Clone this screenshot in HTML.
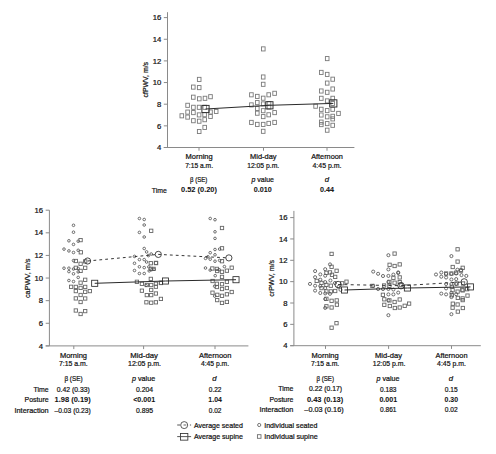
<!DOCTYPE html>
<html><head><meta charset="utf-8"><title>PWV by time of day</title>
<style>
html,body{margin:0;padding:0;background:#fff;}
body{width:496px;height:454px;overflow:hidden;}
svg{display:block;font-family:"Liberation Sans",sans-serif;}
text{fill:#111;stroke:#111;stroke-width:0.22px;}
text[font-weight=bold]{stroke-width:0.05px;}
</style></head>
<body>
<svg width="496" height="454" viewBox="0 0 496 454">
<rect width="496" height="454" fill="#fff"/>
<line x1="167.50" y1="12.20" x2="167.50" y2="147.50" stroke="#8a8a8a" stroke-width="1.0"/>
<line x1="163.80" y1="147.50" x2="354.40" y2="147.50" stroke="#8a8a8a" stroke-width="1.0"/>
<line x1="163.80" y1="147.50" x2="167.50" y2="147.50" stroke="#8a8a8a" stroke-width="1.0"/>
<text x="161.30" y="150.15" text-anchor="end" font-size="7.7">4</text>
<line x1="163.80" y1="125.85" x2="167.50" y2="125.85" stroke="#8a8a8a" stroke-width="1.0"/>
<text x="161.30" y="128.50" text-anchor="end" font-size="7.7">6</text>
<line x1="163.80" y1="104.20" x2="167.50" y2="104.20" stroke="#8a8a8a" stroke-width="1.0"/>
<text x="161.30" y="106.85" text-anchor="end" font-size="7.7">8</text>
<line x1="163.80" y1="82.55" x2="167.50" y2="82.55" stroke="#8a8a8a" stroke-width="1.0"/>
<text x="161.30" y="85.20" text-anchor="end" font-size="7.7">10</text>
<line x1="163.80" y1="60.90" x2="167.50" y2="60.90" stroke="#8a8a8a" stroke-width="1.0"/>
<text x="161.30" y="63.55" text-anchor="end" font-size="7.7">12</text>
<line x1="163.80" y1="39.25" x2="167.50" y2="39.25" stroke="#8a8a8a" stroke-width="1.0"/>
<text x="161.30" y="41.90" text-anchor="end" font-size="7.7">14</text>
<line x1="163.80" y1="17.60" x2="167.50" y2="17.60" stroke="#8a8a8a" stroke-width="1.0"/>
<text x="161.30" y="20.25" text-anchor="end" font-size="7.7">16</text>
<line x1="199.00" y1="147.50" x2="199.00" y2="150.70" stroke="#8a8a8a" stroke-width="1.0"/>
<line x1="263.50" y1="147.50" x2="263.50" y2="150.70" stroke="#8a8a8a" stroke-width="1.0"/>
<line x1="327.00" y1="147.50" x2="327.00" y2="150.70" stroke="#8a8a8a" stroke-width="1.0"/>
<text transform="translate(148.2,79.7) rotate(-90)" text-anchor="middle" font-size="7.7" textLength="35.6" lengthAdjust="spacingAndGlyphs">cfPWV, m/s</text>
<rect x="197.40" y="77.35" width="3.60" height="4.10" fill="none" stroke="#7a7a7a" stroke-width="0.9"/>
<rect x="191.50" y="85.05" width="3.60" height="4.10" fill="none" stroke="#7a7a7a" stroke-width="0.9"/>
<rect x="197.40" y="85.55" width="3.60" height="4.10" fill="none" stroke="#7a7a7a" stroke-width="0.9"/>
<rect x="191.50" y="95.15" width="3.60" height="4.10" fill="none" stroke="#7a7a7a" stroke-width="0.9"/>
<rect x="197.50" y="96.75" width="3.60" height="4.10" fill="none" stroke="#7a7a7a" stroke-width="0.9"/>
<rect x="203.20" y="96.25" width="3.60" height="4.10" fill="none" stroke="#7a7a7a" stroke-width="0.9"/>
<rect x="208.70" y="94.65" width="3.60" height="4.10" fill="none" stroke="#7a7a7a" stroke-width="0.9"/>
<rect x="185.80" y="103.25" width="3.60" height="4.10" fill="none" stroke="#7a7a7a" stroke-width="0.9"/>
<rect x="191.60" y="105.25" width="3.60" height="4.10" fill="none" stroke="#7a7a7a" stroke-width="0.9"/>
<rect x="197.30" y="105.25" width="3.60" height="4.10" fill="none" stroke="#7a7a7a" stroke-width="0.9"/>
<rect x="203.00" y="105.25" width="3.60" height="4.10" fill="none" stroke="#7a7a7a" stroke-width="0.9"/>
<rect x="185.80" y="110.05" width="3.60" height="4.10" fill="none" stroke="#7a7a7a" stroke-width="0.9"/>
<rect x="191.60" y="110.55" width="3.60" height="4.10" fill="none" stroke="#7a7a7a" stroke-width="0.9"/>
<rect x="197.30" y="112.85" width="3.60" height="4.10" fill="none" stroke="#7a7a7a" stroke-width="0.9"/>
<rect x="202.80" y="112.65" width="3.60" height="4.10" fill="none" stroke="#7a7a7a" stroke-width="0.9"/>
<rect x="208.70" y="109.95" width="3.60" height="4.10" fill="none" stroke="#7a7a7a" stroke-width="0.9"/>
<rect x="214.40" y="109.45" width="3.60" height="4.10" fill="none" stroke="#7a7a7a" stroke-width="0.9"/>
<rect x="180.00" y="113.75" width="3.60" height="4.10" fill="none" stroke="#7a7a7a" stroke-width="0.9"/>
<rect x="185.80" y="115.05" width="3.60" height="4.10" fill="none" stroke="#7a7a7a" stroke-width="0.9"/>
<rect x="208.70" y="114.45" width="3.60" height="4.10" fill="none" stroke="#7a7a7a" stroke-width="0.9"/>
<rect x="191.60" y="118.65" width="3.60" height="4.10" fill="none" stroke="#7a7a7a" stroke-width="0.9"/>
<rect x="197.40" y="119.15" width="3.60" height="4.10" fill="none" stroke="#7a7a7a" stroke-width="0.9"/>
<rect x="202.90" y="117.65" width="3.60" height="4.10" fill="none" stroke="#7a7a7a" stroke-width="0.9"/>
<rect x="202.90" y="125.35" width="3.60" height="4.10" fill="none" stroke="#7a7a7a" stroke-width="0.9"/>
<rect x="197.40" y="129.45" width="3.60" height="4.10" fill="none" stroke="#7a7a7a" stroke-width="0.9"/>
<rect x="261.50" y="46.85" width="3.60" height="4.10" fill="none" stroke="#7a7a7a" stroke-width="0.9"/>
<rect x="261.40" y="74.95" width="3.60" height="4.10" fill="none" stroke="#7a7a7a" stroke-width="0.9"/>
<rect x="261.40" y="82.25" width="3.60" height="4.10" fill="none" stroke="#7a7a7a" stroke-width="0.9"/>
<rect x="249.60" y="92.75" width="3.60" height="4.10" fill="none" stroke="#7a7a7a" stroke-width="0.9"/>
<rect x="255.50" y="94.35" width="3.60" height="4.10" fill="none" stroke="#7a7a7a" stroke-width="0.9"/>
<rect x="261.40" y="96.15" width="3.60" height="4.10" fill="none" stroke="#7a7a7a" stroke-width="0.9"/>
<rect x="266.90" y="92.75" width="3.60" height="4.10" fill="none" stroke="#7a7a7a" stroke-width="0.9"/>
<rect x="272.80" y="91.25" width="3.60" height="4.10" fill="none" stroke="#7a7a7a" stroke-width="0.9"/>
<rect x="249.60" y="102.85" width="3.60" height="4.10" fill="none" stroke="#7a7a7a" stroke-width="0.9"/>
<rect x="255.50" y="100.55" width="3.60" height="4.10" fill="none" stroke="#7a7a7a" stroke-width="0.9"/>
<rect x="261.40" y="101.85" width="3.60" height="4.10" fill="none" stroke="#7a7a7a" stroke-width="0.9"/>
<rect x="267.20" y="101.55" width="3.60" height="4.10" fill="none" stroke="#7a7a7a" stroke-width="0.9"/>
<rect x="267.20" y="104.95" width="3.60" height="4.10" fill="none" stroke="#7a7a7a" stroke-width="0.9"/>
<rect x="255.50" y="106.45" width="3.60" height="4.10" fill="none" stroke="#7a7a7a" stroke-width="0.9"/>
<rect x="261.40" y="108.65" width="3.60" height="4.10" fill="none" stroke="#7a7a7a" stroke-width="0.9"/>
<rect x="255.50" y="111.15" width="3.60" height="4.10" fill="none" stroke="#7a7a7a" stroke-width="0.9"/>
<rect x="266.90" y="112.75" width="3.60" height="4.10" fill="none" stroke="#7a7a7a" stroke-width="0.9"/>
<rect x="272.80" y="110.55" width="3.60" height="4.10" fill="none" stroke="#7a7a7a" stroke-width="0.9"/>
<rect x="261.40" y="114.55" width="3.60" height="4.10" fill="none" stroke="#7a7a7a" stroke-width="0.9"/>
<rect x="249.60" y="120.35" width="3.60" height="4.10" fill="none" stroke="#7a7a7a" stroke-width="0.9"/>
<rect x="255.50" y="122.35" width="3.60" height="4.10" fill="none" stroke="#7a7a7a" stroke-width="0.9"/>
<rect x="261.40" y="122.35" width="3.60" height="4.10" fill="none" stroke="#7a7a7a" stroke-width="0.9"/>
<rect x="266.90" y="121.35" width="3.60" height="4.10" fill="none" stroke="#7a7a7a" stroke-width="0.9"/>
<rect x="272.80" y="120.35" width="3.60" height="4.10" fill="none" stroke="#7a7a7a" stroke-width="0.9"/>
<rect x="261.40" y="129.25" width="3.60" height="4.10" fill="none" stroke="#7a7a7a" stroke-width="0.9"/>
<rect x="325.40" y="56.55" width="3.60" height="4.10" fill="none" stroke="#7a7a7a" stroke-width="0.9"/>
<rect x="319.50" y="70.35" width="3.60" height="4.10" fill="none" stroke="#7a7a7a" stroke-width="0.9"/>
<rect x="325.40" y="72.35" width="3.60" height="4.10" fill="none" stroke="#7a7a7a" stroke-width="0.9"/>
<rect x="330.90" y="77.15" width="3.60" height="4.10" fill="none" stroke="#7a7a7a" stroke-width="0.9"/>
<rect x="325.40" y="81.05" width="3.60" height="4.10" fill="none" stroke="#7a7a7a" stroke-width="0.9"/>
<rect x="330.90" y="86.95" width="3.60" height="4.10" fill="none" stroke="#7a7a7a" stroke-width="0.9"/>
<rect x="319.50" y="88.95" width="3.60" height="4.10" fill="none" stroke="#7a7a7a" stroke-width="0.9"/>
<rect x="325.40" y="90.25" width="3.60" height="4.10" fill="none" stroke="#7a7a7a" stroke-width="0.9"/>
<rect x="319.50" y="96.25" width="3.60" height="4.10" fill="none" stroke="#7a7a7a" stroke-width="0.9"/>
<rect x="325.40" y="98.85" width="3.60" height="4.10" fill="none" stroke="#7a7a7a" stroke-width="0.9"/>
<rect x="330.90" y="96.25" width="3.60" height="4.10" fill="none" stroke="#7a7a7a" stroke-width="0.9"/>
<rect x="313.80" y="104.15" width="3.60" height="4.10" fill="none" stroke="#7a7a7a" stroke-width="0.9"/>
<rect x="319.50" y="107.25" width="3.60" height="4.10" fill="none" stroke="#7a7a7a" stroke-width="0.9"/>
<rect x="325.40" y="108.55" width="3.60" height="4.10" fill="none" stroke="#7a7a7a" stroke-width="0.9"/>
<rect x="330.90" y="107.25" width="3.60" height="4.10" fill="none" stroke="#7a7a7a" stroke-width="0.9"/>
<rect x="336.70" y="111.35" width="3.60" height="4.10" fill="none" stroke="#7a7a7a" stroke-width="0.9"/>
<rect x="319.50" y="112.95" width="3.60" height="4.10" fill="none" stroke="#7a7a7a" stroke-width="0.9"/>
<rect x="325.40" y="114.75" width="3.60" height="4.10" fill="none" stroke="#7a7a7a" stroke-width="0.9"/>
<rect x="330.90" y="114.25" width="3.60" height="4.10" fill="none" stroke="#7a7a7a" stroke-width="0.9"/>
<rect x="330.90" y="116.85" width="3.60" height="4.10" fill="none" stroke="#7a7a7a" stroke-width="0.9"/>
<rect x="319.50" y="120.05" width="3.60" height="4.10" fill="none" stroke="#7a7a7a" stroke-width="0.9"/>
<rect x="319.50" y="122.55" width="3.60" height="4.10" fill="none" stroke="#7a7a7a" stroke-width="0.9"/>
<rect x="325.40" y="121.55" width="3.60" height="4.10" fill="none" stroke="#7a7a7a" stroke-width="0.9"/>
<rect x="330.90" y="123.25" width="3.60" height="4.10" fill="none" stroke="#7a7a7a" stroke-width="0.9"/>
<rect x="325.40" y="128.15" width="3.60" height="4.10" fill="none" stroke="#7a7a7a" stroke-width="0.9"/>
<rect x="330.90" y="101.45" width="3.60" height="4.10" fill="none" stroke="#7a7a7a" stroke-width="0.9"/>
<polyline points="205.50,109.00 269.40,105.30 333.30,103.40" fill="none" stroke="#2a2a2a" stroke-width="1.0"/>
<rect x="201.90" y="105.40" width="7.20" height="7.20" fill="none" stroke="#2a2a2a" stroke-width="0.95"/>
<rect x="265.80" y="101.70" width="7.20" height="7.20" fill="none" stroke="#2a2a2a" stroke-width="0.95"/>
<rect x="329.70" y="99.80" width="7.20" height="7.20" fill="none" stroke="#2a2a2a" stroke-width="0.95"/>
<text x="199.10" y="158.90" text-anchor="middle" font-size="7.7" textLength="27.20" lengthAdjust="spacingAndGlyphs">Morning</text>
<text x="199.10" y="167.80" text-anchor="middle" font-size="7.7" textLength="27.90" lengthAdjust="spacingAndGlyphs">7:15 a.m.</text>
<text x="263.30" y="158.80" text-anchor="middle" font-size="7.7" textLength="26.50" lengthAdjust="spacingAndGlyphs">Mid-day</text>
<text x="263.20" y="167.90" text-anchor="middle" font-size="7.7" textLength="32.10" lengthAdjust="spacingAndGlyphs">12:05 p.m.</text>
<text x="327.00" y="158.60" text-anchor="middle" font-size="7.7" textLength="31.70" lengthAdjust="spacingAndGlyphs">Afternoon</text>
<text x="327.00" y="167.90" text-anchor="middle" font-size="7.7" textLength="29.10" lengthAdjust="spacingAndGlyphs">4:45 p.m.</text>
<text x="198.70" y="181.80" text-anchor="middle" font-size="7.7" textLength="17.30" lengthAdjust="spacingAndGlyphs">&#946; (SE)</text>
<text x="262.7" y="181.6" text-anchor="middle" font-size="7.7" textLength="22.6" lengthAdjust="spacingAndGlyphs"><tspan font-style="italic">p</tspan> value</text>
<text x="327.00" y="182.00" text-anchor="middle" font-size="7.7" font-style="italic">d</text>
<text x="166.80" y="192.50" text-anchor="end" font-size="7.7" textLength="15.00" lengthAdjust="spacingAndGlyphs">Time</text>
<text x="199.00" y="192.20" text-anchor="middle" font-size="7.7" font-weight="bold" textLength="35.90" lengthAdjust="spacingAndGlyphs">0.52 (0.20)</text>
<text x="262.70" y="192.20" text-anchor="middle" font-size="7.7" font-weight="bold" textLength="18.00" lengthAdjust="spacingAndGlyphs">0.010</text>
<text x="327.10" y="192.30" text-anchor="middle" font-size="7.7" font-weight="bold" textLength="14.00" lengthAdjust="spacingAndGlyphs">0.44</text>
<line x1="49.40" y1="210.20" x2="49.40" y2="345.90" stroke="#8a8a8a" stroke-width="1.0"/>
<line x1="45.70" y1="345.90" x2="248.40" y2="345.90" stroke="#8a8a8a" stroke-width="1.0"/>
<line x1="45.70" y1="345.90" x2="49.40" y2="345.90" stroke="#8a8a8a" stroke-width="1.0"/>
<text x="43.10" y="348.55" text-anchor="end" font-size="7.7">4</text>
<line x1="45.70" y1="323.28" x2="49.40" y2="323.28" stroke="#8a8a8a" stroke-width="1.0"/>
<text x="43.10" y="325.93" text-anchor="end" font-size="7.7">6</text>
<line x1="45.70" y1="300.67" x2="49.40" y2="300.67" stroke="#8a8a8a" stroke-width="1.0"/>
<text x="43.10" y="303.32" text-anchor="end" font-size="7.7">8</text>
<line x1="45.70" y1="278.05" x2="49.40" y2="278.05" stroke="#8a8a8a" stroke-width="1.0"/>
<text x="43.10" y="280.70" text-anchor="end" font-size="7.7">10</text>
<line x1="45.70" y1="255.43" x2="49.40" y2="255.43" stroke="#8a8a8a" stroke-width="1.0"/>
<text x="43.10" y="258.08" text-anchor="end" font-size="7.7">12</text>
<line x1="45.70" y1="232.82" x2="49.40" y2="232.82" stroke="#8a8a8a" stroke-width="1.0"/>
<text x="43.10" y="235.47" text-anchor="end" font-size="7.7">14</text>
<line x1="45.70" y1="210.20" x2="49.40" y2="210.20" stroke="#8a8a8a" stroke-width="1.0"/>
<text x="43.10" y="212.85" text-anchor="end" font-size="7.7">16</text>
<line x1="73.80" y1="345.90" x2="73.80" y2="349.10" stroke="#8a8a8a" stroke-width="1.0"/>
<line x1="143.60" y1="345.90" x2="143.60" y2="349.10" stroke="#8a8a8a" stroke-width="1.0"/>
<line x1="215.00" y1="345.90" x2="215.00" y2="349.10" stroke="#8a8a8a" stroke-width="1.0"/>
<text transform="translate(29.8,278.3) rotate(-90)" text-anchor="middle" font-size="7.7" textLength="39.6" lengthAdjust="spacingAndGlyphs">caPWV, m/s</text>
<rect x="78.95" y="238.45" width="3.30" height="3.30" fill="none" stroke="#666666" stroke-width="0.9"/>
<rect x="79.15" y="250.65" width="3.30" height="3.30" fill="none" stroke="#666666" stroke-width="0.9"/>
<rect x="74.15" y="259.35" width="3.30" height="3.30" fill="none" stroke="#666666" stroke-width="0.9"/>
<rect x="78.95" y="262.15" width="3.30" height="3.30" fill="none" stroke="#666666" stroke-width="0.9"/>
<rect x="83.55" y="259.75" width="3.30" height="3.30" fill="none" stroke="#666666" stroke-width="0.9"/>
<rect x="74.15" y="266.15" width="3.30" height="3.30" fill="none" stroke="#666666" stroke-width="0.9"/>
<rect x="83.55" y="266.15" width="3.30" height="3.30" fill="none" stroke="#666666" stroke-width="0.9"/>
<rect x="78.95" y="269.25" width="3.30" height="3.30" fill="none" stroke="#666666" stroke-width="0.9"/>
<rect x="83.55" y="278.15" width="3.30" height="3.30" fill="none" stroke="#666666" stroke-width="0.9"/>
<rect x="78.95" y="281.05" width="3.30" height="3.30" fill="none" stroke="#666666" stroke-width="0.9"/>
<rect x="69.45" y="285.15" width="3.30" height="3.30" fill="none" stroke="#666666" stroke-width="0.9"/>
<rect x="74.15" y="285.25" width="3.30" height="3.30" fill="none" stroke="#666666" stroke-width="0.9"/>
<rect x="78.95" y="286.25" width="3.30" height="3.30" fill="none" stroke="#666666" stroke-width="0.9"/>
<rect x="83.55" y="285.25" width="3.30" height="3.30" fill="none" stroke="#666666" stroke-width="0.9"/>
<rect x="74.15" y="289.45" width="3.30" height="3.30" fill="none" stroke="#666666" stroke-width="0.9"/>
<rect x="83.55" y="290.15" width="3.30" height="3.30" fill="none" stroke="#666666" stroke-width="0.9"/>
<rect x="88.15" y="289.45" width="3.30" height="3.30" fill="none" stroke="#666666" stroke-width="0.9"/>
<rect x="78.95" y="293.35" width="3.30" height="3.30" fill="none" stroke="#666666" stroke-width="0.9"/>
<rect x="74.15" y="296.75" width="3.30" height="3.30" fill="none" stroke="#666666" stroke-width="0.9"/>
<rect x="83.55" y="296.85" width="3.30" height="3.30" fill="none" stroke="#666666" stroke-width="0.9"/>
<rect x="78.95" y="300.35" width="3.30" height="3.30" fill="none" stroke="#666666" stroke-width="0.9"/>
<rect x="74.15" y="308.85" width="3.30" height="3.30" fill="none" stroke="#666666" stroke-width="0.9"/>
<rect x="83.55" y="309.45" width="3.30" height="3.30" fill="none" stroke="#666666" stroke-width="0.9"/>
<rect x="78.95" y="312.35" width="3.30" height="3.30" fill="none" stroke="#666666" stroke-width="0.9"/>
<rect x="149.55" y="229.15" width="3.30" height="3.30" fill="none" stroke="#666666" stroke-width="0.9"/>
<rect x="149.15" y="261.55" width="3.30" height="3.30" fill="none" stroke="#666666" stroke-width="0.9"/>
<rect x="154.25" y="261.25" width="3.30" height="3.30" fill="none" stroke="#666666" stroke-width="0.9"/>
<rect x="149.15" y="267.25" width="3.30" height="3.30" fill="none" stroke="#666666" stroke-width="0.9"/>
<rect x="151.95" y="267.25" width="3.30" height="3.30" fill="none" stroke="#666666" stroke-width="0.9"/>
<rect x="154.45" y="261.45" width="3.30" height="3.30" fill="none" stroke="#666666" stroke-width="0.9"/>
<rect x="149.15" y="277.25" width="3.30" height="3.30" fill="none" stroke="#666666" stroke-width="0.9"/>
<rect x="135.25" y="280.15" width="3.30" height="3.30" fill="none" stroke="#666666" stroke-width="0.9"/>
<rect x="140.25" y="282.15" width="3.30" height="3.30" fill="none" stroke="#666666" stroke-width="0.9"/>
<rect x="145.15" y="283.35" width="3.30" height="3.30" fill="none" stroke="#666666" stroke-width="0.9"/>
<rect x="149.55" y="283.35" width="3.30" height="3.30" fill="none" stroke="#666666" stroke-width="0.9"/>
<rect x="154.25" y="282.15" width="3.30" height="3.30" fill="none" stroke="#666666" stroke-width="0.9"/>
<rect x="154.25" y="285.05" width="3.30" height="3.30" fill="none" stroke="#666666" stroke-width="0.9"/>
<rect x="159.25" y="281.35" width="3.30" height="3.30" fill="none" stroke="#666666" stroke-width="0.9"/>
<rect x="159.35" y="281.15" width="3.30" height="3.30" fill="none" stroke="#666666" stroke-width="0.9"/>
<rect x="140.25" y="289.05" width="3.30" height="3.30" fill="none" stroke="#666666" stroke-width="0.9"/>
<rect x="149.55" y="288.35" width="3.30" height="3.30" fill="none" stroke="#666666" stroke-width="0.9"/>
<rect x="154.25" y="291.85" width="3.30" height="3.30" fill="none" stroke="#666666" stroke-width="0.9"/>
<rect x="145.15" y="293.45" width="3.30" height="3.30" fill="none" stroke="#666666" stroke-width="0.9"/>
<rect x="149.55" y="293.45" width="3.30" height="3.30" fill="none" stroke="#666666" stroke-width="0.9"/>
<rect x="159.25" y="297.25" width="3.30" height="3.30" fill="none" stroke="#666666" stroke-width="0.9"/>
<rect x="144.75" y="300.65" width="3.30" height="3.30" fill="none" stroke="#666666" stroke-width="0.9"/>
<rect x="149.55" y="301.05" width="3.30" height="3.30" fill="none" stroke="#666666" stroke-width="0.9"/>
<rect x="154.25" y="300.65" width="3.30" height="3.30" fill="none" stroke="#666666" stroke-width="0.9"/>
<rect x="220.35" y="226.35" width="3.30" height="3.30" fill="none" stroke="#666666" stroke-width="0.9"/>
<rect x="220.35" y="246.65" width="3.30" height="3.30" fill="none" stroke="#666666" stroke-width="0.9"/>
<rect x="220.35" y="259.55" width="3.30" height="3.30" fill="none" stroke="#666666" stroke-width="0.9"/>
<rect x="210.65" y="266.85" width="3.30" height="3.30" fill="none" stroke="#666666" stroke-width="0.9"/>
<rect x="215.15" y="267.25" width="3.30" height="3.30" fill="none" stroke="#666666" stroke-width="0.9"/>
<rect x="230.05" y="266.05" width="3.30" height="3.30" fill="none" stroke="#666666" stroke-width="0.9"/>
<rect x="215.55" y="269.35" width="3.30" height="3.30" fill="none" stroke="#666666" stroke-width="0.9"/>
<rect x="220.35" y="270.15" width="3.30" height="3.30" fill="none" stroke="#666666" stroke-width="0.9"/>
<rect x="225.25" y="269.05" width="3.30" height="3.30" fill="none" stroke="#666666" stroke-width="0.9"/>
<rect x="220.35" y="275.25" width="3.30" height="3.30" fill="none" stroke="#666666" stroke-width="0.9"/>
<rect x="210.95" y="279.35" width="3.30" height="3.30" fill="none" stroke="#666666" stroke-width="0.9"/>
<rect x="225.25" y="280.15" width="3.30" height="3.30" fill="none" stroke="#666666" stroke-width="0.9"/>
<rect x="215.15" y="282.15" width="3.30" height="3.30" fill="none" stroke="#666666" stroke-width="0.9"/>
<rect x="220.35" y="282.55" width="3.30" height="3.30" fill="none" stroke="#666666" stroke-width="0.9"/>
<rect x="215.15" y="285.35" width="3.30" height="3.30" fill="none" stroke="#666666" stroke-width="0.9"/>
<rect x="220.35" y="287.35" width="3.30" height="3.30" fill="none" stroke="#666666" stroke-width="0.9"/>
<rect x="225.25" y="286.35" width="3.30" height="3.30" fill="none" stroke="#666666" stroke-width="0.9"/>
<rect x="210.85" y="291.05" width="3.30" height="3.30" fill="none" stroke="#666666" stroke-width="0.9"/>
<rect x="215.65" y="293.15" width="3.30" height="3.30" fill="none" stroke="#666666" stroke-width="0.9"/>
<rect x="220.35" y="294.15" width="3.30" height="3.30" fill="none" stroke="#666666" stroke-width="0.9"/>
<rect x="225.25" y="292.65" width="3.30" height="3.30" fill="none" stroke="#666666" stroke-width="0.9"/>
<rect x="230.05" y="290.35" width="3.30" height="3.30" fill="none" stroke="#666666" stroke-width="0.9"/>
<rect x="215.55" y="298.45" width="3.30" height="3.30" fill="none" stroke="#666666" stroke-width="0.9"/>
<rect x="220.35" y="301.25" width="3.30" height="3.30" fill="none" stroke="#666666" stroke-width="0.9"/>
<rect x="225.25" y="300.25" width="3.30" height="3.30" fill="none" stroke="#666666" stroke-width="0.9"/>
<circle cx="73.50" cy="225.30" r="1.30" fill="none" stroke="#555555" stroke-width="0.85"/>
<circle cx="73.50" cy="232.20" r="1.30" fill="none" stroke="#555555" stroke-width="0.85"/>
<circle cx="68.90" cy="240.80" r="1.30" fill="none" stroke="#555555" stroke-width="0.85"/>
<circle cx="78.20" cy="241.20" r="1.30" fill="none" stroke="#555555" stroke-width="0.85"/>
<circle cx="73.50" cy="244.40" r="1.30" fill="none" stroke="#555555" stroke-width="0.85"/>
<circle cx="64.00" cy="249.10" r="1.30" fill="none" stroke="#555555" stroke-width="0.85"/>
<circle cx="68.90" cy="250.90" r="1.30" fill="none" stroke="#555555" stroke-width="0.85"/>
<circle cx="73.50" cy="252.50" r="1.30" fill="none" stroke="#555555" stroke-width="0.85"/>
<circle cx="78.20" cy="250.30" r="1.30" fill="none" stroke="#555555" stroke-width="0.85"/>
<circle cx="73.50" cy="260.60" r="1.30" fill="none" stroke="#555555" stroke-width="0.85"/>
<circle cx="64.00" cy="268.20" r="1.30" fill="none" stroke="#555555" stroke-width="0.85"/>
<circle cx="68.90" cy="268.20" r="1.30" fill="none" stroke="#555555" stroke-width="0.85"/>
<circle cx="68.90" cy="271.60" r="1.30" fill="none" stroke="#555555" stroke-width="0.85"/>
<circle cx="73.50" cy="269.00" r="1.30" fill="none" stroke="#555555" stroke-width="0.85"/>
<circle cx="78.20" cy="268.40" r="1.30" fill="none" stroke="#555555" stroke-width="0.85"/>
<circle cx="78.20" cy="271.90" r="1.30" fill="none" stroke="#555555" stroke-width="0.85"/>
<circle cx="73.50" cy="273.80" r="1.30" fill="none" stroke="#555555" stroke-width="0.85"/>
<circle cx="78.20" cy="277.40" r="1.30" fill="none" stroke="#555555" stroke-width="0.85"/>
<circle cx="68.90" cy="280.50" r="1.30" fill="none" stroke="#555555" stroke-width="0.85"/>
<circle cx="73.50" cy="281.50" r="1.30" fill="none" stroke="#555555" stroke-width="0.85"/>
<circle cx="139.40" cy="218.50" r="1.30" fill="none" stroke="#555555" stroke-width="0.85"/>
<circle cx="144.20" cy="219.50" r="1.30" fill="none" stroke="#555555" stroke-width="0.85"/>
<circle cx="144.20" cy="225.00" r="1.30" fill="none" stroke="#555555" stroke-width="0.85"/>
<circle cx="139.40" cy="232.40" r="1.30" fill="none" stroke="#555555" stroke-width="0.85"/>
<circle cx="144.20" cy="237.00" r="1.30" fill="none" stroke="#555555" stroke-width="0.85"/>
<circle cx="144.20" cy="248.50" r="1.30" fill="none" stroke="#555555" stroke-width="0.85"/>
<circle cx="146.60" cy="251.90" r="1.30" fill="none" stroke="#555555" stroke-width="0.85"/>
<circle cx="151.20" cy="254.00" r="1.30" fill="none" stroke="#555555" stroke-width="0.85"/>
<circle cx="148.40" cy="255.60" r="1.30" fill="none" stroke="#555555" stroke-width="0.85"/>
<circle cx="134.50" cy="256.40" r="1.30" fill="none" stroke="#555555" stroke-width="0.85"/>
<circle cx="139.40" cy="259.60" r="1.30" fill="none" stroke="#555555" stroke-width="0.85"/>
<circle cx="144.20" cy="259.60" r="1.30" fill="none" stroke="#555555" stroke-width="0.85"/>
<circle cx="146.60" cy="262.00" r="1.30" fill="none" stroke="#555555" stroke-width="0.85"/>
<circle cx="134.50" cy="263.30" r="1.30" fill="none" stroke="#555555" stroke-width="0.85"/>
<circle cx="139.40" cy="266.80" r="1.30" fill="none" stroke="#555555" stroke-width="0.85"/>
<circle cx="144.20" cy="267.60" r="1.30" fill="none" stroke="#555555" stroke-width="0.85"/>
<circle cx="148.80" cy="266.90" r="1.30" fill="none" stroke="#555555" stroke-width="0.85"/>
<circle cx="134.50" cy="270.50" r="1.30" fill="none" stroke="#555555" stroke-width="0.85"/>
<circle cx="139.40" cy="273.50" r="1.30" fill="none" stroke="#555555" stroke-width="0.85"/>
<circle cx="144.20" cy="273.50" r="1.30" fill="none" stroke="#555555" stroke-width="0.85"/>
<circle cx="149.20" cy="270.90" r="1.30" fill="none" stroke="#555555" stroke-width="0.85"/>
<circle cx="151.60" cy="269.70" r="1.30" fill="none" stroke="#555555" stroke-width="0.85"/>
<circle cx="154.00" cy="269.30" r="1.30" fill="none" stroke="#555555" stroke-width="0.85"/>
<circle cx="146.00" cy="285.40" r="1.30" fill="none" stroke="#555555" stroke-width="0.85"/>
<circle cx="210.20" cy="218.50" r="1.30" fill="none" stroke="#555555" stroke-width="0.85"/>
<circle cx="215.00" cy="219.70" r="1.30" fill="none" stroke="#555555" stroke-width="0.85"/>
<circle cx="215.00" cy="231.80" r="1.30" fill="none" stroke="#555555" stroke-width="0.85"/>
<circle cx="215.00" cy="238.40" r="1.30" fill="none" stroke="#555555" stroke-width="0.85"/>
<circle cx="215.00" cy="249.50" r="1.30" fill="none" stroke="#555555" stroke-width="0.85"/>
<circle cx="219.60" cy="249.10" r="1.30" fill="none" stroke="#555555" stroke-width="0.85"/>
<circle cx="210.20" cy="252.70" r="1.30" fill="none" stroke="#555555" stroke-width="0.85"/>
<circle cx="215.00" cy="254.80" r="1.30" fill="none" stroke="#555555" stroke-width="0.85"/>
<circle cx="205.50" cy="258.40" r="1.30" fill="none" stroke="#555555" stroke-width="0.85"/>
<circle cx="207.90" cy="256.80" r="1.30" fill="none" stroke="#555555" stroke-width="0.85"/>
<circle cx="210.20" cy="259.20" r="1.30" fill="none" stroke="#555555" stroke-width="0.85"/>
<circle cx="215.00" cy="261.20" r="1.30" fill="none" stroke="#555555" stroke-width="0.85"/>
<circle cx="219.60" cy="260.40" r="1.30" fill="none" stroke="#555555" stroke-width="0.85"/>
<circle cx="205.50" cy="268.00" r="1.30" fill="none" stroke="#555555" stroke-width="0.85"/>
<circle cx="224.40" cy="266.60" r="1.30" fill="none" stroke="#555555" stroke-width="0.85"/>
<circle cx="210.20" cy="270.10" r="1.30" fill="none" stroke="#555555" stroke-width="0.85"/>
<circle cx="219.20" cy="269.70" r="1.30" fill="none" stroke="#555555" stroke-width="0.85"/>
<circle cx="215.20" cy="275.70" r="1.30" fill="none" stroke="#555555" stroke-width="0.85"/>
<circle cx="214.60" cy="286.20" r="1.30" fill="none" stroke="#555555" stroke-width="0.85"/>
<circle cx="214.70" cy="296.10" r="1.30" fill="none" stroke="#555555" stroke-width="0.85"/>
<polyline points="87.60,261.00 158.30,254.40 228.90,257.90" fill="none" stroke="#2a2a2a" stroke-width="0.95" stroke-dasharray="2.8,3.1"/>
<polyline points="94.70,283.30 165.50,281.00 236.00,279.70" fill="none" stroke="#2a2a2a" stroke-width="1.0"/>
<circle cx="87.60" cy="261.00" r="3.10" fill="none" stroke="#2a2a2a" stroke-width="0.85"/>
<circle cx="158.30" cy="254.40" r="3.10" fill="none" stroke="#2a2a2a" stroke-width="0.85"/>
<circle cx="228.90" cy="257.90" r="3.10" fill="none" stroke="#2a2a2a" stroke-width="0.85"/>
<rect x="91.65" y="280.25" width="6.10" height="6.10" fill="none" stroke="#2a2a2a" stroke-width="0.85"/>
<rect x="162.45" y="277.95" width="6.10" height="6.10" fill="none" stroke="#2a2a2a" stroke-width="0.85"/>
<rect x="232.95" y="276.65" width="6.10" height="6.10" fill="none" stroke="#2a2a2a" stroke-width="0.85"/>
<text x="73.50" y="358.30" text-anchor="middle" font-size="7.7" textLength="27.10" lengthAdjust="spacingAndGlyphs">Morning</text>
<text x="73.30" y="365.60" text-anchor="middle" font-size="7.7" textLength="28.80" lengthAdjust="spacingAndGlyphs">7:15 a.m.</text>
<text x="144.10" y="358.30" text-anchor="middle" font-size="7.7" textLength="27.70" lengthAdjust="spacingAndGlyphs">Mid-day</text>
<text x="144.50" y="366.10" text-anchor="middle" font-size="7.7" textLength="33.00" lengthAdjust="spacingAndGlyphs">12:05 p.m.</text>
<text x="215.20" y="358.30" text-anchor="middle" font-size="7.7" textLength="32.50" lengthAdjust="spacingAndGlyphs">Afternoon</text>
<text x="215.00" y="366.10" text-anchor="middle" font-size="7.7" textLength="28.20" lengthAdjust="spacingAndGlyphs">4:45 p.m.</text>
<text x="73.50" y="380.70" text-anchor="middle" font-size="7.7" textLength="18.20" lengthAdjust="spacingAndGlyphs">&#946; (SE)</text>
<text x="143.6" y="381.0" text-anchor="middle" font-size="7.7" textLength="23.2" lengthAdjust="spacingAndGlyphs"><tspan font-style="italic">p</tspan> value</text>
<text x="214.40" y="381.20" text-anchor="middle" font-size="7.7" font-style="italic">d</text>
<text x="48.70" y="391.80" text-anchor="end" font-size="7.7" textLength="15.10" lengthAdjust="spacingAndGlyphs">Time</text>
<text x="48.70" y="401.80" text-anchor="end" font-size="7.7" textLength="24.20" lengthAdjust="spacingAndGlyphs">Posture</text>
<text x="48.70" y="412.50" text-anchor="end" font-size="7.7" textLength="34.20" lengthAdjust="spacingAndGlyphs">Interaction</text>
<text x="73.30" y="391.80" text-anchor="middle" font-size="7.7" textLength="33.00" lengthAdjust="spacingAndGlyphs">0.42 (0.33)</text>
<text x="72.60" y="401.80" text-anchor="middle" font-size="7.7" font-weight="bold" textLength="36.20" lengthAdjust="spacingAndGlyphs">1.98 (0.19)</text>
<text x="72.60" y="412.50" text-anchor="middle" font-size="7.7" textLength="36.20" lengthAdjust="spacingAndGlyphs">&#8211;0.03 (0.23)</text>
<text x="144.60" y="391.80" text-anchor="middle" font-size="7.7" textLength="17.20" lengthAdjust="spacingAndGlyphs">0.204</text>
<text x="144.20" y="401.80" text-anchor="middle" font-size="7.7" font-weight="bold" textLength="22.00" lengthAdjust="spacingAndGlyphs">&lt;0.001</text>
<text x="144.60" y="412.50" text-anchor="middle" font-size="7.7" textLength="17.20" lengthAdjust="spacingAndGlyphs">0.895</text>
<text x="215.10" y="391.80" text-anchor="middle" font-size="7.7" textLength="12.70" lengthAdjust="spacingAndGlyphs">0.22</text>
<text x="215.10" y="401.80" text-anchor="middle" font-size="7.7" font-weight="bold" textLength="13.50" lengthAdjust="spacingAndGlyphs">1.04</text>
<text x="215.10" y="412.50" text-anchor="middle" font-size="7.7" textLength="12.70" lengthAdjust="spacingAndGlyphs">0.02</text>
<line x1="293.90" y1="210.90" x2="293.90" y2="345.70" stroke="#8a8a8a" stroke-width="1.0"/>
<line x1="290.20" y1="345.70" x2="480.80" y2="345.70" stroke="#8a8a8a" stroke-width="1.0"/>
<line x1="290.20" y1="345.70" x2="293.90" y2="345.70" stroke="#8a8a8a" stroke-width="1.0"/>
<text x="287.50" y="348.35" text-anchor="end" font-size="7.7">4</text>
<line x1="290.20" y1="324.35" x2="293.90" y2="324.35" stroke="#8a8a8a" stroke-width="1.0"/>
<text x="287.50" y="327.00" text-anchor="end" font-size="7.7">6</text>
<line x1="290.20" y1="303.00" x2="293.90" y2="303.00" stroke="#8a8a8a" stroke-width="1.0"/>
<text x="287.50" y="305.65" text-anchor="end" font-size="7.7">8</text>
<line x1="290.20" y1="281.65" x2="293.90" y2="281.65" stroke="#8a8a8a" stroke-width="1.0"/>
<text x="287.50" y="284.30" text-anchor="end" font-size="7.7">10</text>
<line x1="290.20" y1="260.30" x2="293.90" y2="260.30" stroke="#8a8a8a" stroke-width="1.0"/>
<text x="287.50" y="262.95" text-anchor="end" font-size="7.7">12</text>
<line x1="290.20" y1="238.95" x2="293.90" y2="238.95" stroke="#8a8a8a" stroke-width="1.0"/>
<text x="287.50" y="241.60" text-anchor="end" font-size="7.7">14</text>
<line x1="290.20" y1="217.60" x2="293.90" y2="217.60" stroke="#8a8a8a" stroke-width="1.0"/>
<text x="287.50" y="220.25" text-anchor="end" font-size="7.7">16</text>
<line x1="325.50" y1="345.70" x2="325.50" y2="348.90" stroke="#8a8a8a" stroke-width="1.0"/>
<line x1="388.60" y1="345.70" x2="388.60" y2="348.90" stroke="#8a8a8a" stroke-width="1.0"/>
<line x1="451.50" y1="345.70" x2="451.50" y2="348.90" stroke="#8a8a8a" stroke-width="1.0"/>
<text transform="translate(274.3,278.3) rotate(-90)" text-anchor="middle" font-size="7.7" textLength="37.0" lengthAdjust="spacingAndGlyphs">crPWV, m/s</text>
<rect x="329.95" y="252.25" width="3.30" height="3.30" fill="none" stroke="#666666" stroke-width="0.9"/>
<rect x="329.95" y="265.15" width="3.30" height="3.30" fill="none" stroke="#666666" stroke-width="0.9"/>
<rect x="334.95" y="269.15" width="3.30" height="3.30" fill="none" stroke="#666666" stroke-width="0.9"/>
<rect x="324.75" y="271.15" width="3.30" height="3.30" fill="none" stroke="#666666" stroke-width="0.9"/>
<rect x="328.35" y="270.75" width="3.30" height="3.30" fill="none" stroke="#666666" stroke-width="0.9"/>
<rect x="330.35" y="273.15" width="3.30" height="3.30" fill="none" stroke="#666666" stroke-width="0.9"/>
<rect x="333.55" y="275.25" width="3.30" height="3.30" fill="none" stroke="#666666" stroke-width="0.9"/>
<rect x="315.05" y="279.25" width="3.30" height="3.30" fill="none" stroke="#666666" stroke-width="0.9"/>
<rect x="319.85" y="281.25" width="3.30" height="3.30" fill="none" stroke="#666666" stroke-width="0.9"/>
<rect x="324.75" y="283.25" width="3.30" height="3.30" fill="none" stroke="#666666" stroke-width="0.9"/>
<rect x="329.15" y="284.05" width="3.30" height="3.30" fill="none" stroke="#666666" stroke-width="0.9"/>
<rect x="340.45" y="281.65" width="3.30" height="3.30" fill="none" stroke="#666666" stroke-width="0.9"/>
<rect x="344.85" y="280.05" width="3.30" height="3.30" fill="none" stroke="#666666" stroke-width="0.9"/>
<rect x="319.85" y="286.45" width="3.30" height="3.30" fill="none" stroke="#666666" stroke-width="0.9"/>
<rect x="324.75" y="289.75" width="3.30" height="3.30" fill="none" stroke="#666666" stroke-width="0.9"/>
<rect x="329.15" y="289.75" width="3.30" height="3.30" fill="none" stroke="#666666" stroke-width="0.9"/>
<rect x="333.55" y="289.35" width="3.30" height="3.30" fill="none" stroke="#666666" stroke-width="0.9"/>
<rect x="324.75" y="297.15" width="3.30" height="3.30" fill="none" stroke="#666666" stroke-width="0.9"/>
<rect x="329.95" y="299.15" width="3.30" height="3.30" fill="none" stroke="#666666" stroke-width="0.9"/>
<rect x="335.05" y="298.75" width="3.30" height="3.30" fill="none" stroke="#666666" stroke-width="0.9"/>
<rect x="335.25" y="303.05" width="3.30" height="3.30" fill="none" stroke="#666666" stroke-width="0.9"/>
<rect x="324.75" y="304.65" width="3.30" height="3.30" fill="none" stroke="#666666" stroke-width="0.9"/>
<rect x="329.95" y="305.85" width="3.30" height="3.30" fill="none" stroke="#666666" stroke-width="0.9"/>
<rect x="334.85" y="321.55" width="3.30" height="3.30" fill="none" stroke="#666666" stroke-width="0.9"/>
<rect x="329.95" y="326.05" width="3.30" height="3.30" fill="none" stroke="#666666" stroke-width="0.9"/>
<rect x="392.95" y="251.95" width="3.30" height="3.30" fill="none" stroke="#666666" stroke-width="0.9"/>
<rect x="387.95" y="263.15" width="3.30" height="3.30" fill="none" stroke="#666666" stroke-width="0.9"/>
<rect x="392.95" y="264.35" width="3.30" height="3.30" fill="none" stroke="#666666" stroke-width="0.9"/>
<rect x="398.05" y="262.75" width="3.30" height="3.30" fill="none" stroke="#666666" stroke-width="0.9"/>
<rect x="391.75" y="276.15" width="3.30" height="3.30" fill="none" stroke="#666666" stroke-width="0.9"/>
<rect x="398.05" y="275.75" width="3.30" height="3.30" fill="none" stroke="#666666" stroke-width="0.9"/>
<rect x="387.75" y="280.25" width="3.30" height="3.30" fill="none" stroke="#666666" stroke-width="0.9"/>
<rect x="392.95" y="281.05" width="3.30" height="3.30" fill="none" stroke="#666666" stroke-width="0.9"/>
<rect x="398.05" y="280.45" width="3.30" height="3.30" fill="none" stroke="#666666" stroke-width="0.9"/>
<rect x="382.45" y="283.85" width="3.30" height="3.30" fill="none" stroke="#666666" stroke-width="0.9"/>
<rect x="387.75" y="284.25" width="3.30" height="3.30" fill="none" stroke="#666666" stroke-width="0.9"/>
<rect x="399.35" y="283.05" width="3.30" height="3.30" fill="none" stroke="#666666" stroke-width="0.9"/>
<rect x="370.75" y="284.25" width="3.30" height="3.30" fill="none" stroke="#666666" stroke-width="0.9"/>
<rect x="381.25" y="293.15" width="3.30" height="3.30" fill="none" stroke="#666666" stroke-width="0.9"/>
<rect x="382.65" y="297.65" width="3.30" height="3.30" fill="none" stroke="#666666" stroke-width="0.9"/>
<rect x="387.75" y="298.75" width="3.30" height="3.30" fill="none" stroke="#666666" stroke-width="0.9"/>
<rect x="392.95" y="300.35" width="3.30" height="3.30" fill="none" stroke="#666666" stroke-width="0.9"/>
<rect x="398.05" y="297.85" width="3.30" height="3.30" fill="none" stroke="#666666" stroke-width="0.9"/>
<rect x="382.65" y="303.15" width="3.30" height="3.30" fill="none" stroke="#666666" stroke-width="0.9"/>
<rect x="388.15" y="304.35" width="3.30" height="3.30" fill="none" stroke="#666666" stroke-width="0.9"/>
<rect x="393.15" y="306.35" width="3.30" height="3.30" fill="none" stroke="#666666" stroke-width="0.9"/>
<rect x="398.05" y="305.85" width="3.30" height="3.30" fill="none" stroke="#666666" stroke-width="0.9"/>
<rect x="403.05" y="304.15" width="3.30" height="3.30" fill="none" stroke="#666666" stroke-width="0.9"/>
<rect x="407.45" y="301.95" width="3.30" height="3.30" fill="none" stroke="#666666" stroke-width="0.9"/>
<rect x="455.95" y="247.65" width="3.30" height="3.30" fill="none" stroke="#666666" stroke-width="0.9"/>
<rect x="455.95" y="259.95" width="3.30" height="3.30" fill="none" stroke="#666666" stroke-width="0.9"/>
<rect x="451.05" y="265.35" width="3.30" height="3.30" fill="none" stroke="#666666" stroke-width="0.9"/>
<rect x="461.05" y="266.15" width="3.30" height="3.30" fill="none" stroke="#666666" stroke-width="0.9"/>
<rect x="459.35" y="268.95" width="3.30" height="3.30" fill="none" stroke="#666666" stroke-width="0.9"/>
<rect x="444.45" y="271.85" width="3.30" height="3.30" fill="none" stroke="#666666" stroke-width="0.9"/>
<rect x="449.75" y="271.85" width="3.30" height="3.30" fill="none" stroke="#666666" stroke-width="0.9"/>
<rect x="454.55" y="271.05" width="3.30" height="3.30" fill="none" stroke="#666666" stroke-width="0.9"/>
<rect x="454.95" y="281.85" width="3.30" height="3.30" fill="none" stroke="#666666" stroke-width="0.9"/>
<rect x="461.45" y="281.85" width="3.30" height="3.30" fill="none" stroke="#666666" stroke-width="0.9"/>
<rect x="450.15" y="285.15" width="3.30" height="3.30" fill="none" stroke="#666666" stroke-width="0.9"/>
<rect x="460.65" y="288.05" width="3.30" height="3.30" fill="none" stroke="#666666" stroke-width="0.9"/>
<rect x="465.45" y="287.55" width="3.30" height="3.30" fill="none" stroke="#666666" stroke-width="0.9"/>
<rect x="450.95" y="288.55" width="3.30" height="3.30" fill="none" stroke="#666666" stroke-width="0.9"/>
<rect x="455.95" y="289.95" width="3.30" height="3.30" fill="none" stroke="#666666" stroke-width="0.9"/>
<rect x="461.05" y="288.75" width="3.30" height="3.30" fill="none" stroke="#666666" stroke-width="0.9"/>
<rect x="465.85" y="293.95" width="3.30" height="3.30" fill="none" stroke="#666666" stroke-width="0.9"/>
<rect x="450.15" y="293.55" width="3.30" height="3.30" fill="none" stroke="#666666" stroke-width="0.9"/>
<rect x="456.15" y="296.25" width="3.30" height="3.30" fill="none" stroke="#666666" stroke-width="0.9"/>
<rect x="460.95" y="296.75" width="3.30" height="3.30" fill="none" stroke="#666666" stroke-width="0.9"/>
<rect x="461.05" y="298.45" width="3.30" height="3.30" fill="none" stroke="#666666" stroke-width="0.9"/>
<rect x="451.15" y="302.05" width="3.30" height="3.30" fill="none" stroke="#666666" stroke-width="0.9"/>
<rect x="455.95" y="302.85" width="3.30" height="3.30" fill="none" stroke="#666666" stroke-width="0.9"/>
<rect x="450.95" y="306.05" width="3.30" height="3.30" fill="none" stroke="#666666" stroke-width="0.9"/>
<rect x="461.15" y="306.35" width="3.30" height="3.30" fill="none" stroke="#666666" stroke-width="0.9"/>
<rect x="456.15" y="309.95" width="3.30" height="3.30" fill="none" stroke="#666666" stroke-width="0.9"/>
<circle cx="330.00" cy="264.40" r="1.55" fill="none" stroke="#555555" stroke-width="0.85"/>
<circle cx="325.20" cy="269.20" r="1.55" fill="none" stroke="#555555" stroke-width="0.85"/>
<circle cx="315.10" cy="271.10" r="1.55" fill="none" stroke="#555555" stroke-width="0.85"/>
<circle cx="320.30" cy="274.40" r="1.55" fill="none" stroke="#555555" stroke-width="0.85"/>
<circle cx="325.20" cy="275.70" r="1.55" fill="none" stroke="#555555" stroke-width="0.85"/>
<circle cx="315.10" cy="277.20" r="1.55" fill="none" stroke="#555555" stroke-width="0.85"/>
<circle cx="320.30" cy="279.70" r="1.55" fill="none" stroke="#555555" stroke-width="0.85"/>
<circle cx="325.20" cy="282.10" r="1.55" fill="none" stroke="#555555" stroke-width="0.85"/>
<circle cx="330.40" cy="280.50" r="1.55" fill="none" stroke="#555555" stroke-width="0.85"/>
<circle cx="310.00" cy="283.90" r="1.55" fill="none" stroke="#555555" stroke-width="0.85"/>
<circle cx="315.10" cy="285.70" r="1.55" fill="none" stroke="#555555" stroke-width="0.85"/>
<circle cx="320.30" cy="286.10" r="1.55" fill="none" stroke="#555555" stroke-width="0.85"/>
<circle cx="325.20" cy="288.10" r="1.55" fill="none" stroke="#555555" stroke-width="0.85"/>
<circle cx="315.10" cy="290.60" r="1.55" fill="none" stroke="#555555" stroke-width="0.85"/>
<circle cx="320.30" cy="293.00" r="1.55" fill="none" stroke="#555555" stroke-width="0.85"/>
<circle cx="325.20" cy="293.40" r="1.55" fill="none" stroke="#555555" stroke-width="0.85"/>
<circle cx="330.00" cy="293.80" r="1.55" fill="none" stroke="#555555" stroke-width="0.85"/>
<circle cx="340.50" cy="289.80" r="1.55" fill="none" stroke="#555555" stroke-width="0.85"/>
<circle cx="325.20" cy="299.00" r="1.55" fill="none" stroke="#555555" stroke-width="0.85"/>
<circle cx="325.20" cy="307.90" r="1.55" fill="none" stroke="#555555" stroke-width="0.85"/>
<circle cx="335.00" cy="283.00" r="1.55" fill="none" stroke="#555555" stroke-width="0.85"/>
<circle cx="338.50" cy="287.00" r="1.55" fill="none" stroke="#555555" stroke-width="0.85"/>
<circle cx="388.40" cy="255.20" r="1.55" fill="none" stroke="#555555" stroke-width="0.85"/>
<circle cx="388.40" cy="269.40" r="1.55" fill="none" stroke="#555555" stroke-width="0.85"/>
<circle cx="373.20" cy="271.60" r="1.55" fill="none" stroke="#555555" stroke-width="0.85"/>
<circle cx="378.10" cy="273.80" r="1.55" fill="none" stroke="#555555" stroke-width="0.85"/>
<circle cx="383.00" cy="276.00" r="1.55" fill="none" stroke="#555555" stroke-width="0.85"/>
<circle cx="388.40" cy="275.90" r="1.55" fill="none" stroke="#555555" stroke-width="0.85"/>
<circle cx="393.40" cy="274.60" r="1.55" fill="none" stroke="#555555" stroke-width="0.85"/>
<circle cx="398.20" cy="273.00" r="1.55" fill="none" stroke="#555555" stroke-width="0.85"/>
<circle cx="398.20" cy="272.40" r="1.55" fill="none" stroke="#555555" stroke-width="0.85"/>
<circle cx="388.40" cy="281.90" r="1.55" fill="none" stroke="#555555" stroke-width="0.85"/>
<circle cx="373.20" cy="285.90" r="1.55" fill="none" stroke="#555555" stroke-width="0.85"/>
<circle cx="378.10" cy="289.00" r="1.55" fill="none" stroke="#555555" stroke-width="0.85"/>
<circle cx="383.00" cy="289.00" r="1.55" fill="none" stroke="#555555" stroke-width="0.85"/>
<circle cx="388.40" cy="289.00" r="1.55" fill="none" stroke="#555555" stroke-width="0.85"/>
<circle cx="393.40" cy="289.50" r="1.55" fill="none" stroke="#555555" stroke-width="0.85"/>
<circle cx="398.20" cy="292.60" r="1.55" fill="none" stroke="#555555" stroke-width="0.85"/>
<circle cx="388.40" cy="294.40" r="1.55" fill="none" stroke="#555555" stroke-width="0.85"/>
<circle cx="393.40" cy="294.40" r="1.55" fill="none" stroke="#555555" stroke-width="0.85"/>
<circle cx="388.40" cy="300.30" r="1.55" fill="none" stroke="#555555" stroke-width="0.85"/>
<circle cx="388.40" cy="315.20" r="1.55" fill="none" stroke="#555555" stroke-width="0.85"/>
<circle cx="451.40" cy="256.10" r="1.55" fill="none" stroke="#555555" stroke-width="0.85"/>
<circle cx="457.40" cy="269.70" r="1.55" fill="none" stroke="#555555" stroke-width="0.85"/>
<circle cx="461.00" cy="270.20" r="1.55" fill="none" stroke="#555555" stroke-width="0.85"/>
<circle cx="441.30" cy="272.50" r="1.55" fill="none" stroke="#555555" stroke-width="0.85"/>
<circle cx="436.00" cy="274.50" r="1.55" fill="none" stroke="#555555" stroke-width="0.85"/>
<circle cx="441.30" cy="276.70" r="1.55" fill="none" stroke="#555555" stroke-width="0.85"/>
<circle cx="446.10" cy="273.90" r="1.55" fill="none" stroke="#555555" stroke-width="0.85"/>
<circle cx="446.10" cy="277.50" r="1.55" fill="none" stroke="#555555" stroke-width="0.85"/>
<circle cx="451.40" cy="273.90" r="1.55" fill="none" stroke="#555555" stroke-width="0.85"/>
<circle cx="451.40" cy="279.50" r="1.55" fill="none" stroke="#555555" stroke-width="0.85"/>
<circle cx="456.20" cy="273.50" r="1.55" fill="none" stroke="#555555" stroke-width="0.85"/>
<circle cx="456.20" cy="279.10" r="1.55" fill="none" stroke="#555555" stroke-width="0.85"/>
<circle cx="461.50" cy="275.10" r="1.55" fill="none" stroke="#555555" stroke-width="0.85"/>
<circle cx="466.30" cy="275.90" r="1.55" fill="none" stroke="#555555" stroke-width="0.85"/>
<circle cx="446.10" cy="284.00" r="1.55" fill="none" stroke="#555555" stroke-width="0.85"/>
<circle cx="451.40" cy="284.00" r="1.55" fill="none" stroke="#555555" stroke-width="0.85"/>
<circle cx="456.20" cy="284.00" r="1.55" fill="none" stroke="#555555" stroke-width="0.85"/>
<circle cx="446.10" cy="288.40" r="1.55" fill="none" stroke="#555555" stroke-width="0.85"/>
<circle cx="441.30" cy="293.60" r="1.55" fill="none" stroke="#555555" stroke-width="0.85"/>
<circle cx="446.10" cy="294.40" r="1.55" fill="none" stroke="#555555" stroke-width="0.85"/>
<circle cx="451.40" cy="292.80" r="1.55" fill="none" stroke="#555555" stroke-width="0.85"/>
<circle cx="451.40" cy="297.10" r="1.55" fill="none" stroke="#555555" stroke-width="0.85"/>
<circle cx="456.20" cy="294.20" r="1.55" fill="none" stroke="#555555" stroke-width="0.85"/>
<circle cx="451.40" cy="314.20" r="1.55" fill="none" stroke="#555555" stroke-width="0.85"/>
<polyline points="338.10,284.50 401.00,285.70 464.20,281.90" fill="none" stroke="#2a2a2a" stroke-width="0.95" stroke-dasharray="3.0,3.3"/>
<polyline points="344.50,290.00 407.40,288.00 470.50,286.90" fill="none" stroke="#2a2a2a" stroke-width="1.0"/>
<circle cx="338.10" cy="284.50" r="3.20" fill="none" stroke="#2a2a2a" stroke-width="0.85"/>
<circle cx="401.00" cy="285.70" r="3.20" fill="none" stroke="#2a2a2a" stroke-width="0.85"/>
<circle cx="464.20" cy="281.90" r="3.20" fill="none" stroke="#2a2a2a" stroke-width="0.85"/>
<rect x="341.45" y="286.95" width="6.10" height="6.10" fill="none" stroke="#2a2a2a" stroke-width="0.85"/>
<rect x="404.35" y="284.95" width="6.10" height="6.10" fill="none" stroke="#2a2a2a" stroke-width="0.85"/>
<rect x="467.45" y="283.85" width="6.10" height="6.10" fill="none" stroke="#2a2a2a" stroke-width="0.85"/>
<text x="325.10" y="358.10" text-anchor="middle" font-size="7.7" textLength="27.20" lengthAdjust="spacingAndGlyphs">Morning</text>
<text x="325.10" y="365.80" text-anchor="middle" font-size="7.7" textLength="28.30" lengthAdjust="spacingAndGlyphs">7:15 a.m.</text>
<text x="388.50" y="357.80" text-anchor="middle" font-size="7.7" textLength="27.00" lengthAdjust="spacingAndGlyphs">Mid-day</text>
<text x="389.10" y="366.10" text-anchor="middle" font-size="7.7" textLength="32.60" lengthAdjust="spacingAndGlyphs">12:05 p.m.</text>
<text x="451.50" y="357.80" text-anchor="middle" font-size="7.7" textLength="32.00" lengthAdjust="spacingAndGlyphs">Afternoon</text>
<text x="451.50" y="366.10" text-anchor="middle" font-size="7.7" textLength="28.80" lengthAdjust="spacingAndGlyphs">4:45 p.m.</text>
<text x="325.20" y="380.90" text-anchor="middle" font-size="7.7" textLength="17.50" lengthAdjust="spacingAndGlyphs">&#946; (SE)</text>
<text x="388.0" y="381.0" text-anchor="middle" font-size="7.7" textLength="22.9" lengthAdjust="spacingAndGlyphs"><tspan font-style="italic">p</tspan> value</text>
<text x="451.00" y="381.20" text-anchor="middle" font-size="7.7" font-style="italic">d</text>
<text x="293.30" y="391.40" text-anchor="end" font-size="7.7" textLength="15.10" lengthAdjust="spacingAndGlyphs">Time</text>
<text x="293.30" y="401.50" text-anchor="end" font-size="7.7" textLength="23.80" lengthAdjust="spacingAndGlyphs">Posture</text>
<text x="293.30" y="412.10" text-anchor="end" font-size="7.7" textLength="33.90" lengthAdjust="spacingAndGlyphs">Interaction</text>
<text x="325.50" y="391.40" text-anchor="middle" font-size="7.7" textLength="33.10" lengthAdjust="spacingAndGlyphs">0.22 (0.17)</text>
<text x="325.10" y="401.50" text-anchor="middle" font-size="7.7" font-weight="bold" textLength="36.30" lengthAdjust="spacingAndGlyphs">0.43 (0.13)</text>
<text x="324.00" y="412.10" text-anchor="middle" font-size="7.7" textLength="39.30" lengthAdjust="spacingAndGlyphs">&#8211;0.03 (0.16)</text>
<text x="388.30" y="391.70" text-anchor="middle" font-size="7.7" textLength="16.40" lengthAdjust="spacingAndGlyphs">0.183</text>
<text x="388.30" y="401.50" text-anchor="middle" font-size="7.7" font-weight="bold" textLength="17.80" lengthAdjust="spacingAndGlyphs">0.001</text>
<text x="388.30" y="412.10" text-anchor="middle" font-size="7.7" textLength="16.40" lengthAdjust="spacingAndGlyphs">0.861</text>
<text x="451.30" y="391.70" text-anchor="middle" font-size="7.7" textLength="12.90" lengthAdjust="spacingAndGlyphs">0.15</text>
<text x="451.30" y="401.50" text-anchor="middle" font-size="7.7" font-weight="bold" textLength="13.50" lengthAdjust="spacingAndGlyphs">0.30</text>
<text x="451.30" y="412.10" text-anchor="middle" font-size="7.7" textLength="12.90" lengthAdjust="spacingAndGlyphs">0.02</text>
<line x1="177.20" y1="425.00" x2="180.20" y2="425.00" stroke="#444" stroke-width="0.9"/>
<line x1="183.50" y1="425.00" x2="186.30" y2="425.00" stroke="#555" stroke-width="0.9"/>
<line x1="189.90" y1="425.00" x2="191.10" y2="425.00" stroke="#444" stroke-width="0.9"/>
<circle cx="184.20" cy="425.10" r="3.50" fill="none" stroke="#333" stroke-width="0.8"/>
<text x="193.90" y="427.50" text-anchor="start" font-size="7.7" textLength="49.00" lengthAdjust="spacingAndGlyphs">Average seated</text>
<rect x="180.55" y="433.45" width="7.3" height="6.7" fill="none" stroke="#333" stroke-width="0.85"/>
<line x1="177.20" y1="436.60" x2="191.10" y2="436.60" stroke="#444" stroke-width="0.9"/>
<text x="193.90" y="439.00" text-anchor="start" font-size="7.7" textLength="49.00" lengthAdjust="spacingAndGlyphs">Average supine</text>
<circle cx="259.20" cy="425.00" r="1.60" fill="none" stroke="#555555" stroke-width="0.8"/>
<text x="264.20" y="427.50" text-anchor="start" font-size="7.7" textLength="53.20" lengthAdjust="spacingAndGlyphs">Individual seated</text>
<rect x="257.40" y="434.70" width="3.60" height="3.60" fill="none" stroke="#666666" stroke-width="0.85"/>
<text x="264.20" y="439.00" text-anchor="start" font-size="7.7" textLength="53.50" lengthAdjust="spacingAndGlyphs">Individual supine</text>
</svg>
</body></html>
